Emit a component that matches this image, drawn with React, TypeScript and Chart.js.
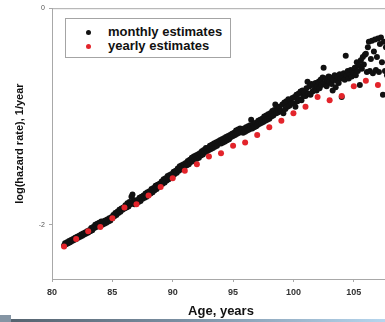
import React, { useEffect, useRef } from "react";
import { Chart, registerables } from "chart.js";

Chart.register(...registerables);

// ---- data ----
const yearlyAges = [81, 82, 83, 84, 85, 86, 87, 88, 89, 90, 91, 92, 93, 94, 95, 96, 97, 98, 99, 100, 101, 102, 103, 104, 105, 106, 107];
const yearlyValues = [-2.2, -2.13, -2.06, -2.02, -1.94, -1.84, -1.81, -1.73, -1.65, -1.57, -1.5, -1.44, -1.37, -1.34, -1.27, -1.24, -1.17, -1.1, -1.04, -0.97, -0.91, -0.82, -0.85, -0.81, -0.72, -0.67, -0.71];

const monthlyStartAge = 81;
const monthlyValues = [
  // 81
  -2.19, -2.17, -2.18, -2.16, -2.17, -2.15, -2.16, -2.14, -2.15, -2.13, -2.14, -2.12,
  // 82
  -2.13, -2.11, -2.12, -2.1, -2.11, -2.09, -2.1, -2.08, -2.09, -2.07, -2.08, -2.06,
  // 83
  -2.07, -2.05, -2.06, -2.03, -2.05, -2.02, -2.03, -2.0, -2.02, -1.99, -2.0, -1.98,
  // 84
  -1.99, -1.97, -2.0, -1.97, -1.99, -1.96, -1.98, -1.95, -1.97, -1.94, -1.96, -1.93,
  // 85
  -1.94, -1.91, -1.92, -1.89, -1.91, -1.88, -1.89, -1.86, -1.88, -1.85, -1.86, -1.84,
  // 86
  -1.85, -1.82, -1.84, -1.8, -1.83, -1.79, -1.81, -1.74, -1.72, -1.77, -1.81, -1.78,
  // 87
  -1.8, -1.77, -1.79, -1.75, -1.78, -1.74, -1.76, -1.73, -1.75, -1.71, -1.74, -1.7,
  // 88
  -1.72, -1.69, -1.71, -1.67, -1.7, -1.66, -1.68, -1.64, -1.67, -1.63, -1.65, -1.62,
  // 89
  -1.63, -1.6, -1.62, -1.58, -1.61, -1.57, -1.59, -1.55, -1.58, -1.54, -1.56, -1.53,
  // 90
  -1.55, -1.51, -1.53, -1.5, -1.52, -1.48, -1.5, -1.46, -1.49, -1.45, -1.47, -1.44,
  // 91
  -1.46, -1.43, -1.45, -1.41, -1.44, -1.4, -1.42, -1.38, -1.41, -1.37, -1.39, -1.36,
  // 92
  -1.39, -1.35, -1.38, -1.34, -1.36, -1.32, -1.35, -1.31, -1.33, -1.29, -1.32, -1.29,
  // 93
  -1.31, -1.27, -1.3, -1.26, -1.29, -1.25, -1.28, -1.24, -1.27, -1.23, -1.25, -1.22,
  // 94
  -1.25, -1.21, -1.24, -1.2, -1.23, -1.19, -1.22, -1.18, -1.21, -1.17, -1.19, -1.16,
  // 95
  -1.18, -1.15, -1.17, -1.13, -1.16, -1.12, -1.15, -1.11, -1.14, -1.12, -1.15, -1.11,
  // 96
  -1.14, -1.1, -1.13, -1.09, -1.12, -1.08, -1.03, -1.11, -1.07, -1.1, -1.06, -1.09,
  // 97
  -1.08, -1.04, -1.07, -1.03, -1.06, -1.02, -1.05, -1.0, -1.04, -0.99, -1.03, -0.98,
  // 98
  -1.02, -0.97, -1.0, -0.95, -0.99, -0.94, -0.89, -0.97, -0.93, -0.96, -0.91, -0.95,
  // 99
  -0.95, -0.89, -0.97, -0.87, -0.93, -0.86, -0.91, -0.84, -0.9, -0.85, -0.88, -0.83,
  // 100
  -0.88, -0.82, -0.91, -0.8, -0.86, -0.79, -0.84, -0.77, -0.85, -0.76, -0.81, -0.78,
  // 101
  -0.81, -0.74, -0.68, -0.79, -0.72, -0.8, -0.7, -0.77, -0.71, -0.75, -0.69, -0.76,
  // 102
  -0.72, -0.68, -0.74, -0.66, -0.71, -0.64, -0.55, -0.69, -0.65, -0.72, -0.67, -0.63,
  // 103
  -0.68, -0.64, -0.7, -0.76, -0.66, -0.62, -0.73, -0.67, -0.63, -0.69, -0.61, -0.65,
  // 104
  -0.82, -0.64, -0.6, -0.66, -0.44, -0.62, -0.58, -0.65, -0.61, -0.57, -0.63, -0.59,
  // 105
  -0.6, -0.55, -0.62, -0.5, -0.58, -0.53, -0.71, -0.48, -0.56, -0.45, -0.52, -0.43,
  // 106
  -0.42, -0.59, -0.36, -0.31, -0.58, -0.47, -0.3, -0.6, -0.4, -0.29, -0.57, -0.45,
  // 107
  -0.28, -0.59, -0.33, -0.27, -0.5, -0.8, -0.31, -0.58, -0.36, -0.62, -0.42, -0.55,
];

const xTickValues = [80, 85, 90, 95, 100, 105];
const yTickValues = [0, -2];
const seriesLabels = ["monthly estimates", "yearly estimates"];
const seriesColors = ["#111111", "#e3242b"];

const FONT = "'Liberation Sans', Arial, sans-serif";

const framePlugin = {
  id: "frameTop",
  afterDraw(chart: any) {
    const { ctx, chartArea } = chart;
    ctx.save();
    ctx.strokeStyle = "#a8a8a8";
    ctx.lineWidth = 1;
    ctx.beginPath();
    ctx.moveTo(chartArea.left, chartArea.top + 0.5);
    ctx.lineTo(chartArea.right, chartArea.top + 0.5);
    ctx.stroke();
    ctx.restore();
  },
};

export default function App() {
  const ref = useRef<HTMLCanvasElement | null>(null);

  useEffect(() => {
    if (!ref.current) return;
    const monthlyPoints = monthlyValues.map((v, i) => ({ x: monthlyStartAge + i / 12, y: v }));
    const yearlyPoints = yearlyValues.map((v, i) => ({ x: yearlyAges[i], y: v }));
    const chart = new Chart(ref.current, {
      type: "scatter",
      data: {
        datasets: [
          {
            label: seriesLabels[1],
            data: yearlyPoints,
            backgroundColor: seriesColors[1],
            borderWidth: 0,
            pointRadius: 3,
            order: 0,
          },
          {
            label: seriesLabels[0],
            data: monthlyPoints,
            backgroundColor: seriesColors[0],
            borderWidth: 0,
            pointRadius: 3,
            order: 1,
          },
        ],
      },
      options: {
        animation: false,
        responsive: false,
        devicePixelRatio: 1,
        layout: { padding: { top: 7, right: 0, bottom: 0, left: 0 } },
        plugins: { legend: { display: false }, tooltip: { enabled: false } },
        scales: {
          x: {
            type: "linear",
            min: 80,
            max: 108,
            afterBuildTicks: (s: any) => {
              s.ticks = xTickValues.map((v) => ({ value: v }));
            },
            afterFit: (s: any) => {
              s.height = 43;
            },
            grid: { display: true, drawOnChartArea: false, tickLength: 3, color: "#a8a8a8" },
            border: { display: true, color: "#a8a8a8", width: 1 },
            ticks: {
              padding: 5,
              color: "#333",
              font: { family: FONT, size: 9, weight: "bold" },
              maxRotation: 0,
            },
            title: {
              display: true,
              text: "Age, years",
              color: "#111",
              font: { family: FONT, size: 13, weight: "bold" },
              padding: { top: 0, bottom: 3 },
            },
          },
          y: {
            type: "linear",
            min: -2.5,
            max: 0,
            afterBuildTicks: (s: any) => {
              s.ticks = yTickValues.map((v) => ({ value: v }));
            },
            afterFit: (s: any) => {
              s.width = 52;
            },
            grid: { display: true, drawOnChartArea: false, tickLength: 3, color: "#a8a8a8" },
            border: { display: true, color: "#a8a8a8", width: 1 },
            ticks: {
              padding: 4,
              color: "#555",
              font: { family: FONT, size: 7 },
              callback: (v: any) => String(v),
            },
            title: {
              display: true,
              text: "log(hazard rate), 1/year",
              color: "#111",
              font: { family: FONT, size: 11, weight: "bold" },
              padding: { top: 13, bottom: 0 },
            },
          },
        },
      },
      plugins: [framePlugin],
    });
    return () => chart.destroy();
  }, []);

  const dot = (c: string) => ({
    position: "absolute" as const,
    left: 20,
    width: 5,
    height: 5,
    borderRadius: "50%",
    background: c,
  });
  const txt = {
    position: "absolute" as const,
    left: 42,
    fontFamily: FONT,
    fontWeight: "bold" as const,
    fontSize: 13,
    lineHeight: "14px",
    color: "#111",
    whiteSpace: "nowrap" as const,
  };

  return (
    <div style={{ position: "fixed", left: 0, top: 0, width: 385, height: 322, overflow: "hidden", background: "#fff" }}>
      <canvas ref={ref} width={394} height={322} style={{ position: "absolute", left: 0, top: 0, width: 394, height: 322 }} />
      <div
        style={{
          position: "absolute",
          left: 65,
          top: 18,
          width: 164,
          height: 38,
          border: "1.5px solid #a4a4a4",
          background: "#fff",
        }}
      >
        <div style={{ ...dot(seriesColors[0]), top: 11 }} />
        <div style={{ ...txt, top: 6 }}>{seriesLabels[0]}</div>
        <div style={{ ...dot(seriesColors[1]), top: 25 }} />
        <div style={{ ...txt, top: 20 }}>{seriesLabels[1]}</div>
      </div>
      <div style={{ position: "absolute", left: 0, top: 315, width: 11, height: 7, background: "#8595a4" }} />
      <div
        style={{
          position: "absolute",
          left: 11,
          top: 319,
          width: 374,
          height: 3,
          background: "linear-gradient(to right, #55636f, #7a8fa2 45%, #b6d6ee)",
        }}
      />
    </div>
  );
}
